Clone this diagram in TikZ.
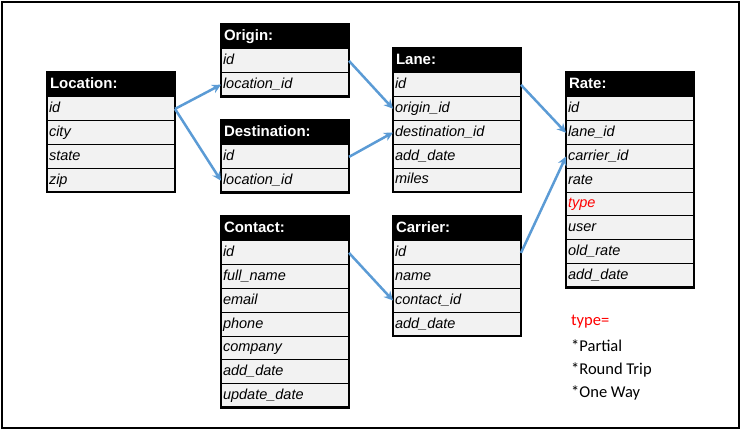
\documentclass[tikz,border=0pt]{standalone}
\usepackage{fontspec}
\setmainfont{Liberation Sans}
\newfontfamily\legendfont{Carlito}
\usetikzlibrary{arrows.meta, positioning}

\definecolor{linkblue}{RGB}{91,155,213}
\definecolor{rowgray}{RGB}{242,242,242}
\definecolor{typered}{RGB}{255,0,0}

\tikzset{
  tblhead/.style={fill=black, text=white, anchor=north west, outer sep=0pt,
    font=\fontsize{15}{17}\selectfont\bfseries, text width=122pt, align=left,
    inner xsep=3pt, minimum height=25pt, text height=10.5pt, text depth=3pt},
  tblrow/.style={draw=black, line width=1pt, fill=rowgray, outer sep=0pt,
    font=\fontsize{14.5}{17}\selectfont\itshape, text width=124pt, align=left,
    inner xsep=2pt, minimum height=23.8pt, text height=10.5pt, text depth=3pt},
  fk/.style={draw=linkblue, line width=2.5pt, -{Stealth[length=9pt, width=9pt]}},
  legend/.style={anchor=west, inner sep=0pt, font=\legendfont\fontsize{16.5}{19}\selectfont}
}

% name, top left corner, title, number of rows, fields
\newcommand{\dbtable}[5]{%
  \node[tblhead] (#1-0) at (#2) {#3};
  \foreach \f [count=\i, remember=\i as \j (initially 0)] in {#5}
    \node[tblrow, below=0pt of #1-\j] (#1-\i) {\f};
  \draw[line width=2.5pt] (#1-0.north west) rectangle (#1-#4.south east);
}

\begin{document}
\begin{tikzpicture}[x=1pt, y=-1pt]
  \useasboundingbox (0,0) rectangle (742,430);
  \draw[line width=2pt] (2,2) rectangle (739,428);

  % tables
  \dbtable{location}{47,72}{Location:}{4}{id, city, state, zip}
  \dbtable{origin}{221,24}{Origin:}{2}{id, location\_id}
  \dbtable{destination}{221,120}{Destination:}{2}{id, location\_id}
  \dbtable{contact}{221,216}{Contact:}{7}{id, full\_name, email, phone, company, add\_date, update\_date}
  \dbtable{lane}{393,48}{Lane:}{5}{id, origin\_id, destination\_id, add\_date, miles}
  \dbtable{carrier}{393,216}{Carrier:}{4}{id, name, contact\_id, add\_date}
  \dbtable{rate}{566,72}{Rate:}{8}{id, lane\_id, carrier\_id, rate, \textcolor{typered}{type}, user, old\_rate, add\_date}

  % keys
  \draw[fk] (location-1.east) -- (origin-2.west);
  \draw[fk] (location-1.east) -- (destination-2.west);
  \draw[fk] (origin-1.east) -- (lane-2.west);
  \draw[fk] (destination-1.east) -- (lane-3.west);
  \draw[fk] (lane-1.east) -- (rate-2.west);
  \draw[fk] (carrier-1.east) -- (rate-3.west);
  \draw[fk] (contact-1.east) -- (carrier-3.west);

  % type values
  \node[legend, text=typered] (legend-0) at (571,322) {type=};
  \node[legend] (legend-1) at (571,346) {*Partial};
  \node[legend] (legend-2) at (571,370) {*Round Trip};
  \node[legend] (legend-3) at (571,393) {*One Way};
\end{tikzpicture}
\end{document}
